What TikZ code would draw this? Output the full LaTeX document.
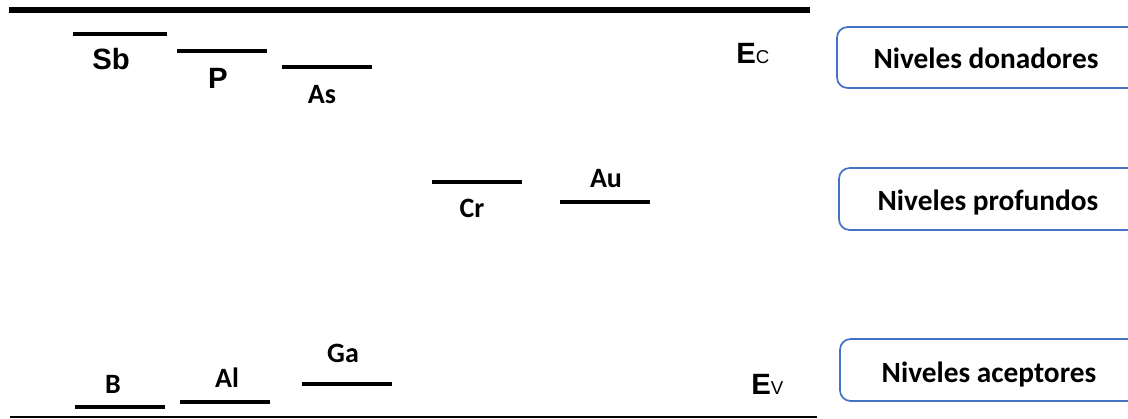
\documentclass[tikz,border=0pt]{standalone}
\usepackage{fontspec}
\newfontfamily\arialfont{Liberation Sans}
\newfontfamily\calfont{Carlito}
\definecolor{boxblue}{HTML}{4472C4}
\begin{document}
\begin{tikzpicture}[x=0.75pt,y=-0.75pt,
  level/.style={line width=3pt},
  band/.style={line width=4.5pt},
  lblA/.style={inner sep=0pt,anchor=base,font=\arialfont\bfseries\fontsize{22}{24}\selectfont},
  lblC/.style={inner sep=0pt,anchor=base,font=\calfont\bfseries\fontsize{21}{24}\selectfont},
  kind/.style={draw=boxblue,line width=1.3pt,rounded corners=8pt,fill=white},
  kindtext/.style={inner sep=0pt,anchor=base,font=\calfont\bfseries\fontsize{22}{25}\selectfont}]
\useasboundingbox (0,0) rectangle (1128,418);
\fill[white] (0,0) rectangle (1128,418);

% conduction and valence band edges
\draw[band] (9,10) -- (810,10);
\draw[line width=1.5pt] (10,416.5) -- (817,416.5);

% donor levels
\draw[level] (73,34) -- (167,34);
\draw[level] (177,51) -- (267,51);
\draw[level] (282,67) -- (372,67);
\node[lblA] (sb) at (111,69) {Sb};
\node[lblA] (p) at (218,88) {P};
\node[lblC] (as) at (322,103) {As};

% deep levels
\draw[level] (432,182) -- (522,182);
\draw[level] (560,202) -- (650,202);
\node[lblC] (cr) at (472,217) {Cr};
\node[lblC] (au) at (606,187) {Au};

% acceptor levels
\draw[level] (75,407) -- (165,407);
\draw[level] (180,402) -- (270,402);
\draw[level] (302,384) -- (392,384);
\node[lblC] (b) at (113,393) {B};
\node[lblC] (al) at (227,387) {Al};
\node[lblC] (ga) at (343,362) {Ga};

% band edge labels
\node[inner sep=0pt,anchor=base west] (ec) at (736,63)
  {\arialfont\bfseries\fontsize{22}{24}\selectfont E\mdseries\fontsize{14}{16}\selectfont C};
\node[inner sep=0pt,anchor=base west] (ev) at (751,394)
  {\arialfont\bfseries\fontsize{22}{24}\selectfont E\mdseries\fontsize{14}{16}\selectfont V};

% legend boxes
\draw[kind] (837,27) rectangle (1145,88);
\draw[kind] (839,168) rectangle (1145,230);
\draw[kind] (840,339) rectangle (1145,401);
\node[kindtext] (don) at (986,68) {Niveles donadores};
\node[kindtext] (pro) at (988,210) {Niveles profundos};
\node[kindtext] (ace) at (989,382) {Niveles aceptores};
\end{tikzpicture}
\end{document}
